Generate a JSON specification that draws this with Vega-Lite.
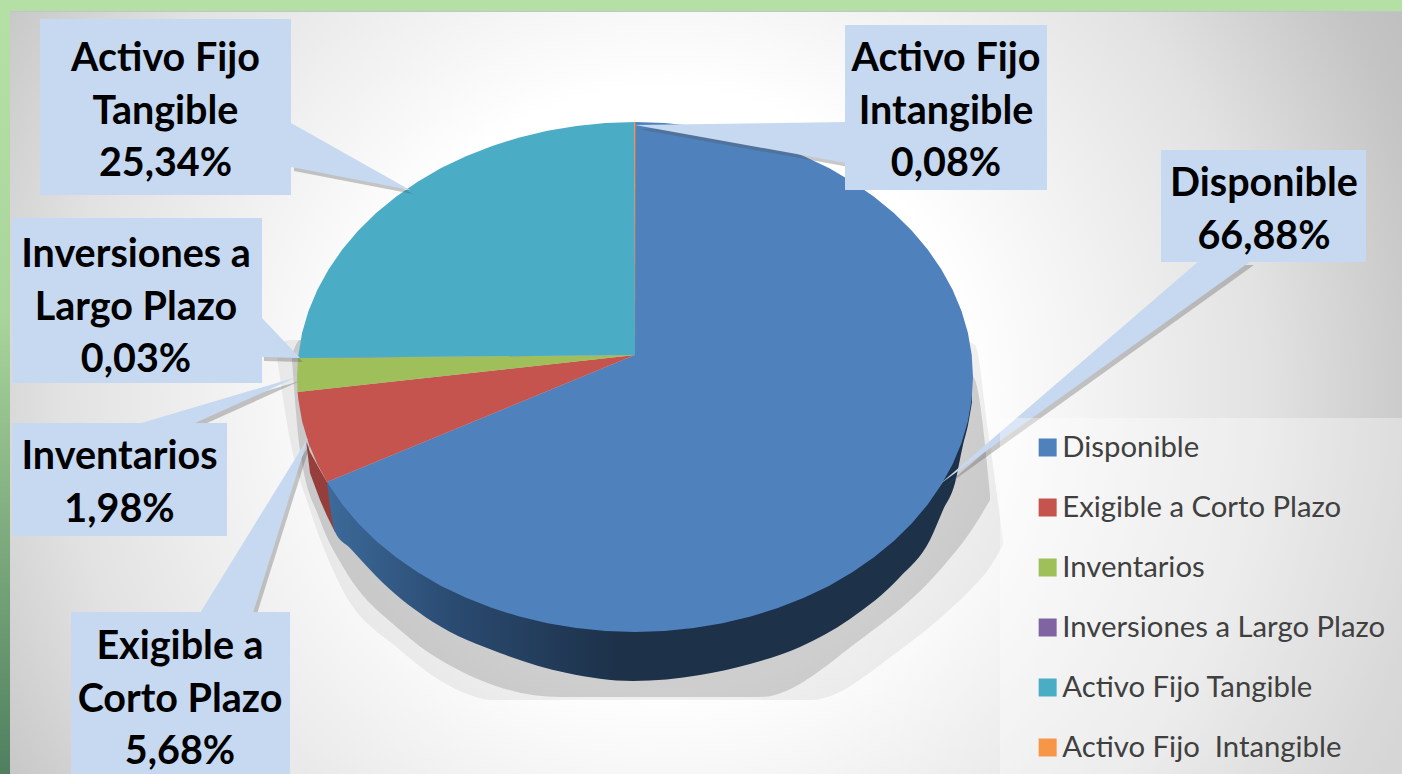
{"$schema":"https://vega.github.io/schema/vega-lite/v6.json","width":1402,"height":774,"autosize":{"type":"none"},"padding":0,"background":"#b5e0a5","config":{"view":{"stroke":null}},
"datasets":{
"slices":[
{"name":"Disponible","o":0,"x":635,"y":355},{"name":"Disponible","o":1,"x":635,"y":122},{"name":"Disponible","o":2,"x":664.5,"y":123},{"name":"Disponible","o":3,"x":693.7,"y":125.9},{"name":"Disponible","o":4,"x":722.5,"y":130.7},{"name":"Disponible","o":5,"x":750.6,"y":137.4},{"name":"Disponible","o":6,"x":777.8,"y":145.9},{"name":"Disponible","o":7,"x":804,"y":156.2},{"name":"Disponible","o":8,"x":828.9,"y":168.1},{"name":"Disponible","o":9,"x":852.3,"y":181.7},{"name":"Disponible","o":10,"x":874,"y":196.7},{"name":"Disponible","o":11,"x":893.9,"y":213.1},{"name":"Disponible","o":12,"x":911.9,"y":230.7},{"name":"Disponible","o":13,"x":927.7,"y":249.5},{"name":"Disponible","o":14,"x":941.3,"y":269.2},{"name":"Disponible","o":15,"x":952.6,"y":289.8},{"name":"Disponible","o":16,"x":961.5,"y":311},{"name":"Disponible","o":17,"x":967.9,"y":332.7},{"name":"Disponible","o":18,"x":971.7,"y":354.8},{"name":"Disponible","o":19,"x":973,"y":377},{"name":"Disponible","o":20,"x":971.7,"y":399.2},{"name":"Disponible","o":21,"x":967.9,"y":421.3},{"name":"Disponible","o":22,"x":961.5,"y":443},{"name":"Disponible","o":23,"x":952.6,"y":464.2},{"name":"Disponible","o":24,"x":941.3,"y":484.8},{"name":"Disponible","o":25,"x":927.7,"y":504.5},{"name":"Disponible","o":26,"x":911.9,"y":523.3},{"name":"Disponible","o":27,"x":893.9,"y":540.9},{"name":"Disponible","o":28,"x":874,"y":557.3},{"name":"Disponible","o":29,"x":852.3,"y":572.3},{"name":"Disponible","o":30,"x":828.9,"y":585.9},{"name":"Disponible","o":31,"x":804,"y":597.8},{"name":"Disponible","o":32,"x":777.8,"y":608.1},{"name":"Disponible","o":33,"x":750.6,"y":616.6},{"name":"Disponible","o":34,"x":722.5,"y":623.3},{"name":"Disponible","o":35,"x":693.7,"y":628.1},{"name":"Disponible","o":36,"x":664.5,"y":631},{"name":"Disponible","o":37,"x":635,"y":632},{"name":"Disponible","o":38,"x":605.5,"y":631},{"name":"Disponible","o":39,"x":576.3,"y":628.1},{"name":"Disponible","o":40,"x":547.5,"y":623.3},{"name":"Disponible","o":41,"x":519.4,"y":616.6},{"name":"Disponible","o":42,"x":492.2,"y":608.1},{"name":"Disponible","o":43,"x":466,"y":597.8},{"name":"Disponible","o":44,"x":441.1,"y":585.9},{"name":"Disponible","o":45,"x":417.7,"y":572.3},{"name":"Disponible","o":46,"x":396,"y":557.3},{"name":"Disponible","o":47,"x":376.1,"y":540.9},{"name":"Disponible","o":48,"x":358.1,"y":523.3},{"name":"Disponible","o":49,"x":342.3,"y":504.5},{"name":"Disponible","o":50,"x":328.7,"y":484.8},{"name":"Disponible","o":51,"x":327,"y":482},
{"name":"Exigible a Corto Plazo","o":0,"x":635,"y":355},{"name":"Exigible a Corto Plazo","o":1,"x":327,"y":482},{"name":"Exigible a Corto Plazo","o":2,"x":317.4,"y":464.2},{"name":"Exigible a Corto Plazo","o":3,"x":308.5,"y":443},{"name":"Exigible a Corto Plazo","o":4,"x":302.1,"y":421.3},{"name":"Exigible a Corto Plazo","o":5,"x":298.3,"y":399.2},{"name":"Exigible a Corto Plazo","o":6,"x":297.6,"y":392.1},
{"name":"Inventarios","o":0,"x":635,"y":355},{"name":"Inventarios","o":1,"x":297.6,"y":392.1},{"name":"Inventarios","o":2,"x":297,"y":377},{"name":"Inventarios","o":3,"x":298,"y":358},
{"name":"Inversiones a Largo Plazo","o":0,"x":635,"y":355},{"name":"Inversiones a Largo Plazo","o":1,"x":298,"y":358},{"name":"Inversiones a Largo Plazo","o":2,"x":298.1,"y":357.4},
{"name":"Activo Fijo Tangible","o":0,"x":635,"y":355},{"name":"Activo Fijo Tangible","o":1,"x":298,"y":358},{"name":"Activo Fijo Tangible","o":2,"x":302.1,"y":332.7},{"name":"Activo Fijo Tangible","o":3,"x":308.5,"y":311},{"name":"Activo Fijo Tangible","o":4,"x":317.4,"y":289.8},{"name":"Activo Fijo Tangible","o":5,"x":328.7,"y":269.2},{"name":"Activo Fijo Tangible","o":6,"x":342.3,"y":249.5},{"name":"Activo Fijo Tangible","o":7,"x":358.1,"y":230.7},{"name":"Activo Fijo Tangible","o":8,"x":376.1,"y":213.1},{"name":"Activo Fijo Tangible","o":9,"x":396,"y":196.7},{"name":"Activo Fijo Tangible","o":10,"x":417.7,"y":181.7},{"name":"Activo Fijo Tangible","o":11,"x":441.1,"y":168.1},{"name":"Activo Fijo Tangible","o":12,"x":466,"y":156.2},{"name":"Activo Fijo Tangible","o":13,"x":492.2,"y":145.9},{"name":"Activo Fijo Tangible","o":14,"x":519.4,"y":137.4},{"name":"Activo Fijo Tangible","o":15,"x":547.5,"y":130.7},{"name":"Activo Fijo Tangible","o":16,"x":576.3,"y":125.9},{"name":"Activo Fijo Tangible","o":17,"x":605.5,"y":123},{"name":"Activo Fijo Tangible","o":18,"x":635,"y":122},
{"name":"Activo Fijo  Intangible","o":0,"x":635,"y":355},{"name":"Activo Fijo  Intangible","o":1,"x":635.4,"y":122},{"name":"Activo Fijo  Intangible","o":2,"x":634,"y":122}
],
"sideBlue":[{"x":972,"y":402,"y2":395},{"x":968,"y":425,"y2":400},{"x":963,"y":445,"y2":420},{"x":955,"y":483,"y2":440},{"x":943,"y":510,"y2":465},{"x":930,"y":540,"y2":490},{"x":900,"y":577,"y2":520},{"x":850,"y":619,"y2":560},{"x":800,"y":647,"y2":590},{"x":750,"y":664,"y2":610},{"x":700,"y":675,"y2":620},{"x":633,"y":681,"y2":625},{"x":567,"y":673,"y2":620},{"x":500,"y":653,"y2":600},{"x":433,"y":622,"y2":560},{"x":383,"y":583,"y2":520},{"x":350,"y":548,"y2":490},{"x":335,"y":532,"y2":482},{"x":327,"y":482,"y2":482}],
"sideRed":[{"x":306,"y":440,"y2":440},{"x":310,"y":473,"y2":452},{"x":320,"y":500,"y2":470},{"x":327,"y":516,"y2":482},{"x":335,"y":532,"y2":482}],
"shadowOuter":[{"x":276,"y":350,"y2":345},{"x":290,"y":440,"y2":340},{"x":310,"y":510,"y2":340},{"x":340,"y":585,"y2":340},{"x":400,"y":650,"y2":340},{"x":470,"y":695,"y2":340},{"x":490,"y":700,"y2":340},{"x":810,"y":700,"y2":340},{"x":900,"y":650,"y2":340},{"x":960,"y":600,"y2":340},{"x":975,"y":585,"y2":345},{"x":988,"y":570,"y2":430},{"x":1003,"y":545,"y2":540}],
"shadowInner":[{"x":292,"y":360,"y2":355},{"x":300,"y":450,"y2":340},{"x":320,"y":520,"y2":340},{"x":345,"y":570,"y2":340},{"x":400,"y":630,"y2":340},{"x":480,"y":680,"y2":340},{"x":560,"y":697,"y2":340},{"x":760,"y":697,"y2":340},{"x":860,"y":640,"y2":340},{"x":940,"y":570,"y2":340},{"x":975,"y":525,"y2":380},{"x":990,"y":500,"y2":495}],
"leaders":[
{"k":"Tangible","o":0,"x":291,"y":123},{"k":"Tangible","o":1,"x":410,"y":190},{"k":"Tangible","o":2,"x":291,"y":167},
{"k":"Intangible","o":0,"x":846,"y":122},{"k":"Intangible","o":1,"x":635,"y":125},{"k":"Intangible","o":2,"x":846,"y":163},
{"k":"Disponible","o":0,"x":1199,"y":261},{"k":"Disponible","o":1,"x":1251,"y":261},{"k":"Disponible","o":2,"x":940,"y":484},
{"k":"Inversiones","o":0,"x":261,"y":317},{"k":"Inversiones","o":1,"x":300,"y":358},{"k":"Inversiones","o":2,"x":261,"y":357},
{"k":"Inventarios","o":0,"x":138,"y":424},{"k":"Inventarios","o":1,"x":297,"y":377},{"k":"Inventarios","o":2,"x":193,"y":424},
{"k":"Exigible","o":0,"x":200,"y":613},{"k":"Exigible","o":1,"x":308,"y":438},{"k":"Exigible","o":2,"x":253,"y":613}
],
"boxes":[
{"label":"Activo Fijo\nTangible\n25,34%","x":40,"x2":291,"y":19,"y2":195,"cx":165.5,"cy":59},
{"label":"Activo Fijo\nIntangible\n0,08%","x":845,"x2":1047,"y":25,"y2":190,"cx":946,"cy":59},
{"label":"Disponible\n66,88%","x":1161,"x2":1366,"y":150,"y2":262,"cx":1264,"cy":184},
{"label":"Inversiones a\nLargo Plazo\n0,03%","x":12,"x2":262,"y":218,"y2":383,"cx":136,"cy":255},
{"label":"Inventarios\n1,98%","x":12,"x2":227,"y":423,"y2":536,"cx":119.5,"cy":457},
{"label":"Exigible a\nCorto Plazo\n5,68%","x":71,"x2":290,"y":612,"y2":774,"cx":180,"cy":647}
]
},
"encoding":{
"x":{"field":"x","type":"quantitative","scale":{"domain":[0,1402],"nice":false,"zero":false},"axis":null},
"y":{"field":"y","type":"quantitative","scale":{"domain":[774,0],"nice":false,"zero":false},"axis":null}
},
"layer":[
{"data":{"values":[{"x":10,"x2":1402,"y":-300,"y2":1080}]},"mark":{"type":"rect","fill":{"gradient":"radial","x1":0.47,"y1":0.5,"r1":0,"x2":0.47,"y2":0.5,"r2":0.72,"stops":[{"offset":0,"color":"#ffffff"},{"offset":0.3,"color":"#ffffff"},{"offset":0.6,"color":"#e2e2e2"},{"offset":0.78,"color":"#c4c4c4"},{"offset":1,"color":"#b0b0b0"}]}},"encoding":{"x2":{"field":"x2"},"y2":{"field":"y2"}}},
{"data":{"values":[{"x":0,"x2":1402,"y":0,"y2":11}]},"mark":{"type":"rect","fill":"#b5e0a5"},"encoding":{"x2":{"field":"x2"},"y2":{"field":"y2"}}},
{"data":{"values":[{"x":10,"x2":1402,"y":11,"y2":12}]},"mark":{"type":"rect","fill":"#c4c4c4"},"encoding":{"x2":{"field":"x2"},"y2":{"field":"y2"}}},
{"data":{"values":[{"x":0,"x2":10,"y":11,"y2":774}]},"mark":{"type":"rect","fill":{"gradient":"linear","x1":0,"y1":0,"x2":0,"y2":1,"stops":[{"offset":0,"color":"#b5e0a5"},{"offset":0.4,"color":"#a9d49b"},{"offset":1,"color":"#4f7f5f"}]}},"encoding":{"x2":{"field":"x2"},"y2":{"field":"y2"}}},
{"data":{"name":"shadowOuter"},"mark":{"type":"area","fill":"#000000","opacity":0.06,"orient":"vertical","interpolate":"monotone"},"encoding":{"y2":{"field":"y2"}}},
{"data":{"name":"shadowInner"},"mark":{"type":"area","fill":"#000000","opacity":0.14,"orient":"vertical","interpolate":"monotone"},"encoding":{"y2":{"field":"y2"}}},
{"data":{"name":"sideRed"},"mark":{"type":"area","fill":"#953e3b","orient":"vertical"},"encoding":{"y2":{"field":"y2"}}},
{"data":{"name":"sideBlue"},"mark":{"type":"area","orient":"vertical","interpolate":"monotone","fill":{"gradient":"linear","x1":0,"y1":0,"x2":1,"y2":0,"stops":[{"offset":0,"color":"#3c6a9a"},{"offset":0.2,"color":"#2a4a70"},{"offset":0.45,"color":"#1d3149"},{"offset":1,"color":"#1d3149"}]}},"encoding":{"y2":{"field":"y2"}}},
{"data":{"name":"slices"},"mark":{"type":"line","filled":true,"strokeWidth":0},"encoding":{"order":{"field":"o","type":"quantitative"},"fill":{"field":"name","type":"nominal","sort":null,"scale":{"domain":["Disponible","Exigible a Corto Plazo","Inventarios","Inversiones a Largo Plazo","Activo Fijo Tangible","Activo Fijo  Intangible"],"range":["#4f81bd","#c5544f","#9fbf5b","#8064a2","#4bacc6","#f79646"]},"legend":{"title":null,"orient":"none","legendX":1033,"legendY":431,"padding":0,"rowPadding":27,"symbolType":"square","symbolSize":324,"symbolStrokeWidth":0,"labelFont":"Lato","labelFontSize":29.3,"labelColor":"#404040","labelOffset":0,"labelLimit":400,"clipHeight":33,"labelExpr":"replace(datum.label,'  ',' \u00a0')"}}}},
{"data":{"name":"leaders"},"mark":{"type":"line","filled":true,"fill":"#555555","opacity":0.32,"strokeWidth":0,"xOffset":3,"yOffset":4},"encoding":{"order":{"field":"o","type":"quantitative"},"detail":{"field":"k"}}},
{"data":{"name":"boxes"},"mark":{"type":"rect","fill":"#666666","opacity":0.55,"xOffset":4,"yOffset":5},"encoding":{"x2":{"field":"x2"},"y2":{"field":"y2"}}},
{"data":{"name":"leaders"},"mark":{"type":"line","filled":true,"fill":"#c6d9f1","strokeWidth":0},"encoding":{"order":{"field":"o","type":"quantitative"},"detail":{"field":"k"}}},
{"data":{"name":"boxes"},"mark":{"type":"rect","fill":"#c6d9f1"},"encoding":{"x2":{"field":"x2"},"y2":{"field":"y2"}}},
{"data":{"name":"boxes"},"mark":{"type":"text","font":"Lato","fontWeight":"bold","fontSize":39.5,"color":"#000000","align":"center","baseline":"middle","lineBreak":"\n","lineHeight":52.5},"encoding":{"x":{"field":"cx","type":"quantitative"},"y":{"field":"cy","type":"quantitative"},"text":{"field":"label"}}},
{"data":{"values":[{"x":1000,"x2":1402,"y":418,"y2":774}]},"mark":{"type":"rect","fill":"#ffffff","opacity":0.35},"encoding":{"x2":{"field":"x2"},"y2":{"field":"y2"}}}
]}
